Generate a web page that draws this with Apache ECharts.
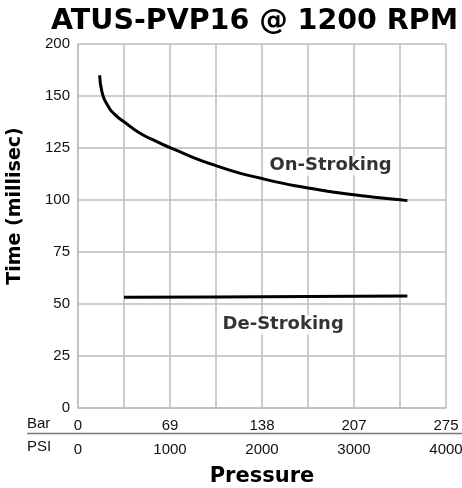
<!DOCTYPE html>
<html>
<head>
<meta charset="utf-8">
<script src="https://cdn.jsdelivr.net/npm/echarts@6/dist/echarts.min.js"></script>
<style>
  html, body { margin: 0; padding: 0; background: #fff; }
  #chart { width: 462px; height: 488px; }
</style>
</head>
<body>
<div id="chart"></div>
<script>
// x ticks (PSI) and matching Bar labels
const psiTicks = [0, 1000, 2000, 3000, 4000];
const barTicks = ['0', '69', '138', '207', '275'];
// y tick labels (chart prints 200 at the top step)
const yTickLabels = ['0', '25', '50', '75', '100', '125', '150', '200'];

// [psi, time]
const onStroking = [
  [236, 160], [258, 152.5], [326, 145.2], [399, 141.2],
  [507, 137.4], [670, 132.2], [852, 128.2], [1000, 125.2], [1500, 116.5],
  [2000, 110.3], [2500, 105.8], [3000, 102.5], [3500, 100.1], [3580, 99.7]
];
const deStroking = [[500, 53.2], [1500, 53.4], [2500, 53.6], [3580, 53.9]];

const curveNames = ['On-Stroking', 'De-Stroking'];
const curveLabelPos = [[2745, 116.5], [2230, 40]];

const gridColor = '#bdbdbd';
const regFont = 'Liberation Sans';
const boldFont = 'DejaVu Sans';

let chart = echarts.init(document.getElementById('chart'));

let option = {
  backgroundColor: '#fff',
  animation: false,
  title: {
    text: 'ATUS-PVP16 @ 1200 RPM',
    left: 46,
    top: 2,
    textStyle: { fontFamily: boldFont, fontWeight: 'bold', fontSize: 28.5, color: '#000' }
  },
  grid: { left: 78, right: 16, top: 44, bottom: 80, outerBoundsMode: 'none' },
  xAxis: [
    {
      type: 'value', position: 'bottom', min: 0, max: 4000, interval: 500,
      axisLine: { lineStyle: { color: gridColor, width: 1.5 } },
      axisTick: { show: false },
      splitLine: { show: true, lineStyle: { color: gridColor, width: 1.5 } },
      axisLabel: {
        margin: 34,
        fontFamily: regFont, fontSize: 15, color: '#111',
        formatter: v => psiTicks.includes(v) ? String(v) : ''
      },
      name: 'Pressure',
      nameLocation: 'middle',
      nameGap: 58,
      nameTextStyle: { fontFamily: boldFont, fontWeight: 'bold', fontSize: 21, color: '#000' }
    },
    {
      type: 'value', position: 'bottom', offset: 0, min: 0, max: 4000, interval: 500,
      axisLine: { show: false },
      axisTick: { show: false },
      splitLine: { show: false },
      axisLabel: {
        margin: 10,
        fontFamily: regFont, fontSize: 15, color: '#111',
        formatter: v => {
          let i = psiTicks.indexOf(v);
          return i >= 0 ? barTicks[i] : '';
        }
      }
    }
  ],
  yAxis: {
    type: 'value', min: 0, max: 175, interval: 25,
    axisLine: { show: true, lineStyle: { color: gridColor, width: 1.5 } },
    axisTick: { show: false },
    splitLine: { show: true, lineStyle: { color: gridColor, width: 1.5 } },
    axisLabel: {
      margin: 8,
      fontFamily: regFont, fontSize: 15, color: '#111',
      formatter: v => yTickLabels[Math.round(v / 25)]
    }
  },
  graphic: [
    {
      type: 'text', x: 15, y: 206, rotation: Math.PI / 2,
      style: {
        text: 'Time (millisec)', fontFamily: boldFont, fontWeight: 'bold', fontSize: 19,
        fill: '#000', align: 'center', verticalAlign: 'middle'
      }
    },
    {
      type: 'text', x: 27, y: 424,
      style: { text: 'Bar', fontFamily: regFont, fontSize: 15, fill: '#111', verticalAlign: 'middle' }
    },
    {
      type: 'text', x: 27, y: 447,
      style: { text: 'PSI', fontFamily: regFont, fontSize: 15, fill: '#111', verticalAlign: 'middle' }
    },
    {
      type: 'line',
      shape: { x1: 27, y1: 433.5, x2: 462, y2: 433.5 },
      style: { stroke: '#777', lineWidth: 1.5 }
    }
  ],
  series: [
    {
      name: curveNames[0], type: 'line', data: onStroking,
      smooth: 0.6, symbol: 'none',
      lineStyle: { color: '#000', width: 3 }
    },
    {
      name: curveNames[1], type: 'line', data: deStroking,
      smooth: true, symbol: 'none',
      lineStyle: { color: '#000', width: 3 }
    },
    {
      type: 'scatter', symbolSize: 1,
      itemStyle: { color: 'transparent' },
      data: curveNames.map((n, i) => ({ name: n, value: curveLabelPos[i] })),
      label: {
        show: true, position: 'inside', formatter: p => p.name,
        fontFamily: boldFont, fontWeight: 'bold', fontSize: 18, color: '#000',
        backgroundColor: '#fff', padding: [1, 3]
      },
      z: 5
    }
  ]
};

chart.setOption(option);
</script>
</body>
</html>
